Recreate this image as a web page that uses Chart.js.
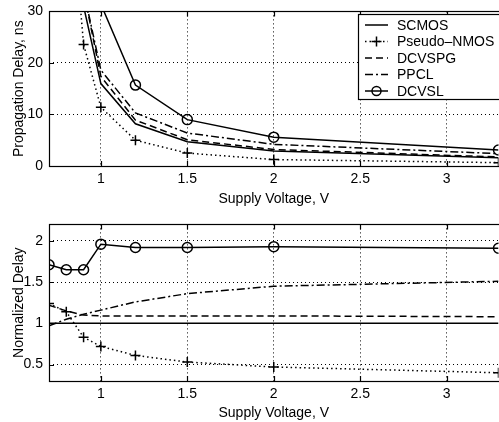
<!DOCTYPE html>
<html>
<head>
<meta charset="utf-8">
<script src="https://cdn.jsdelivr.net/npm/chart.js@4/dist/chart.umd.min.js"></script>
<style>
  html, body { margin: 0; padding: 0; background: #fff; overflow: hidden; }
  #top { position: absolute; left: 0; top: -3px;  width: 505px; height: 211px; }
  #bot { position: absolute; left: 0; top: 210px; width: 505px; height: 212px; }
</style>
</head>
<body>
<div id="top"><canvas id="chart-delay"></canvas></div>
<div id="bot"><canvas id="chart-norm"></canvas></div>
<script>
// ---- data ----
const voltages   = [0.7, 0.8, 0.9, 1.0, 1.2, 1.5, 2.0, 3.3];
const seriesNames = ['SCMOS', 'Pseudo\u2013NMOS', 'DCVSPG', 'PPCL', 'DCVSL'];

// propagation delay, ns (first points are above the 30 ns axis limit)
const delayScmos  = [120, 55, 31, 16.0, 8.2, 4.7, 2.9, 1.6];
const delayPseudo = [149, 63, 23.6, 11.4, 5.0, 2.5, 1.25, 0.65];
const delayDcvspg = [146, 63, 34, 17.4, 8.9, 5.1, 3.2, 1.75];
const delayPpcl   = [116, 58, 34, 18.6, 10.3, 6.4, 4.2, 2.4];
const delayDcvsl  = [205, 91, 51, 31.4, 15.7, 9.0, 5.6, 3.1];

// delay normalized to SCMOS
const normScmos  = [1, 1, 1, 1, 1, 1, 1, 1];
const normPseudo = [1.24, 1.14, 0.83, 0.72, 0.61, 0.53, 0.47, 0.40];
const normDcvspg = [1.22, 1.15, 1.10, 1.09, 1.09, 1.09, 1.09, 1.08];
const normPpcl   = [0.97, 1.05, 1.11, 1.16, 1.26, 1.36, 1.45, 1.51];
const normDcvsl  = [1.71, 1.65, 1.65, 1.96, 1.92, 1.92, 1.93, 1.91];

const xTicks     = [1, 1.5, 2, 2.5, 3];
const delayTicks = [0, 10, 20, 30];
const normTicks  = [0.5, 1, 1.5, 2];

// ---- styles ----
const FONT = 'Liberation Sans, Arial, Helvetica, sans-serif';
const STYLES = [
  { dash: [],              style: false },
  { dash: [1.5, 3],        style: 'cross' },
  { dash: [7, 4],          style: false },
  { dash: [8, 3, 2, 3],    style: false },
  { dash: [],              style: 'circle' },
];

function makeDatasets(seriesList) {
  return seriesList.map((vals, i) => ({
    label:            seriesNames[i],
    data:             vals.map((y, k) => ({ x: voltages[k], y })),
    borderColor:      '#000',
    backgroundColor:  'rgba(0,0,0,0)',
    borderWidth:      1.5,
    borderDash:       STYLES[i].dash,
    pointStyle:       STYLES[i].style || 'circle',
    pointRadius:      STYLES[i].style ? 5 : 0,
    pointBorderWidth: 1.5,
    pointBorderColor: '#000',
    pointBackgroundColor: 'rgba(0,0,0,0)',
    tension:          0,
  }));
}

// black frame + inward ticks (MATLAB-ish)
const framePlugin = {
  id: 'frame',
  afterDraw(chart) {
    const { ctx, chartArea: a } = chart;
    const xs = chart.scales.x, ys = chart.scales.y;
    ctx.save();
    ctx.strokeStyle = '#000';
    ctx.lineWidth = 1.2;
    ctx.setLineDash([]);
    ctx.strokeRect(Math.round(a.left) + 0.5, Math.round(a.top) + 0.5,
                   Math.round(a.right - a.left) + 8, Math.round(a.bottom - a.top));
    ctx.beginPath();
    xs.ticks.forEach(t => {
      const px = Math.round(xs.getPixelForValue(t.value)) + 0.5;
      ctx.moveTo(px, a.bottom); ctx.lineTo(px, a.bottom - 5);
      ctx.moveTo(px, a.top);    ctx.lineTo(px, a.top + 5);
    });
    ys.ticks.forEach(t => {
      const py = Math.round(ys.getPixelForValue(t.value)) + 0.5;
      ctx.moveTo(a.left, py); ctx.lineTo(a.left + 5, py);
    });
    ctx.stroke();
    ctx.restore();
  },
};

// boxed legend, drawn from the datasets' own styles
const legendPlugin = {
  id: 'boxLegend',
  afterDraw(chart) {
    const ctx = chart.ctx;
    const left = 358.5, top = 17.5, rowH = 16.5;
    ctx.save();
    ctx.fillStyle = '#fff';
    ctx.fillRect(left, top, 160, 85);
    ctx.strokeStyle = '#000';
    ctx.lineWidth = 1.2;
    ctx.strokeRect(left, top, 160, 85);
    ctx.font = '14px ' + FONT;
    ctx.textBaseline = 'middle';
    chart.data.datasets.forEach((ds, i) => {
      const y = 28 + i * rowH;
      ctx.lineWidth = ds.borderWidth;
      ctx.setLineDash(ds.borderDash);
      ctx.beginPath();
      ctx.moveTo(365, y); ctx.lineTo(388, y);
      ctx.stroke();
      ctx.setLineDash([]);
      ctx.lineWidth = ds.pointBorderWidth;
      if (ds.pointRadius > 0) {
        const cx = 376.5, r = ds.pointRadius;
        ctx.beginPath();
        if (ds.pointStyle === 'cross') {
          ctx.moveTo(cx - r, y); ctx.lineTo(cx + r, y);
          ctx.moveTo(cx, y - r); ctx.lineTo(cx, y + r);
        } else {
          ctx.arc(cx, y, r - 0.5, 0, Math.PI * 2);
        }
        ctx.stroke();
      }
      ctx.fillStyle = '#000';
      ctx.fillText(ds.label, 397, y + 1);
    });
    ctx.restore();
  },
};

function makeOptions(yMin, yMax, yTickList, yTitle, padTop, xAxisH) {
  return {
    responsive: true,
    maintainAspectRatio: false,
    animation: false,
    layout: { padding: { top: padTop, right: 0, left: 0, bottom: 0 } },
    plugins: { legend: { display: false }, tooltip: { enabled: false } },
    scales: {
      x: {
        type: 'linear',
        min: 0.7, max: 3.3,
        afterBuildTicks: s => { s.ticks = xTicks.map(v => ({ value: v })); },
        afterFit: s => { s.height = xAxisH; },
        ticks: { color: '#000', font: { family: FONT, size: 14 }, padding: 5,
                 callback: v => String(v), maxRotation: 0 },
        grid: { color: '#000', lineWidth: 1, drawTicks: false },
        border: { display: false, dash: [1, 3] },
        title: { display: true, text: 'Supply Voltage, V', color: '#000',
                 font: { family: FONT, size: 14 }, padding: { top: 2, bottom: 0 } },
      },
      y: {
        type: 'linear',
        min: yMin, max: yMax,
        afterBuildTicks: s => { s.ticks = yTickList.map(v => ({ value: v })); },
        afterFit: s => { s.width = 49; },
        ticks: { color: '#000', font: { family: FONT, size: 14 }, padding: 6,
                 callback: v => String(v) },
        grid: { color: '#000', lineWidth: 1, drawTicks: false },
        border: { display: false, dash: [1, 3] },
        title: { display: true, text: yTitle, color: '#000',
                 font: { family: FONT, size: 14 }, padding: { top: 11, bottom: 0 } },
      },
    },
  };
}

new Chart(document.getElementById('chart-delay'), {
  type: 'line',
  data: { datasets: makeDatasets([delayScmos, delayPseudo, delayDcvspg, delayPpcl, delayDcvsl]) },
  options: makeOptions(0, 30, delayTicks, 'Propagation Delay, ns', 8, 42),
  plugins: [framePlugin, legendPlugin],
});

new Chart(document.getElementById('chart-norm'), {
  type: 'line',
  data: { datasets: makeDatasets([normScmos, normPseudo, normDcvspg, normPpcl, normDcvsl]) },
  options: makeOptions(0.3, 2.2, normTicks, 'Normalized Delay', 10, 41),
  plugins: [framePlugin],
});
</script>
</body>
</html>
